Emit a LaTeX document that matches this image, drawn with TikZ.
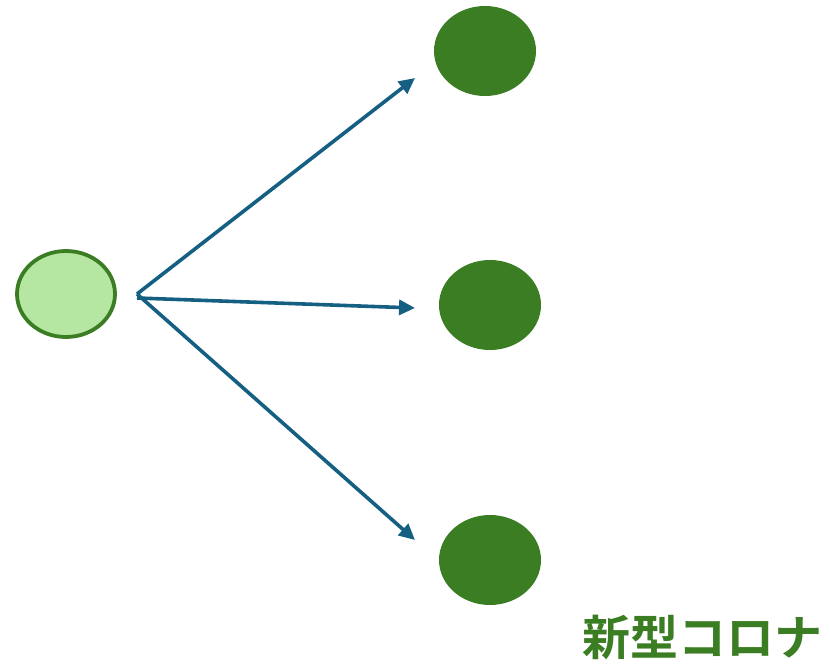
\documentclass[tikz,border=0pt]{standalone}
\usepackage{fontspec}
\newfontfamily\cjk{Noto Sans CJK JP Bold}
\usetikzlibrary{positioning,calc,shapes.geometric,arrows.meta}
\definecolor{leafgreen}{HTML}{3B7D23}
\definecolor{palegreen}{HTML}{B5E6A2}
\definecolor{steelblue}{HTML}{156082}
\begin{document}
\begin{tikzpicture}[x=1pt,y=-1pt,
				every node/.style={inner sep=0pt,outer sep=0pt},
				parent/.style={ellipse,draw=leafgreen,line width=3.8pt,fill=palegreen,minimum width=98pt,minimum height=86pt},
				child/.style={ellipse,fill=leafgreen,minimum width=102pt,minimum height=90pt},
				branch/.style={draw=steelblue,line width=3.6pt,-{Triangle[length=16pt,width=15pt]}}]
				\useasboundingbox (0,0) rectangle (830,666);
				\node[parent] (SRC)  at (66,294)  {};
				\node[child]  (TOP)  at (485,51)  {};
				\node[child]  (MID)  at (490,305) {};
				\node[child]  (BOT)  at (490,560) {};
				\node[text=leafgreen,font=\cjk\fontsize{48}{52}\selectfont,anchor=base] (NAME) at (702,655) {新型コロナ};
				
				\coordinate (FORK)  at (137,294);
				\coordinate (FORK2) at (137,298);
				\coordinate (TOPE)  at (415,78);
				\coordinate (MIDE)  at (415,308);
				\coordinate (BOTE)  at (415,540);
				\draw[branch] (FORK) -- (TOPE);
				\draw[branch] (FORK2) -- (MIDE);
				\draw[branch] (FORK) -- (BOTE);
			\end{tikzpicture}
\end{document}
